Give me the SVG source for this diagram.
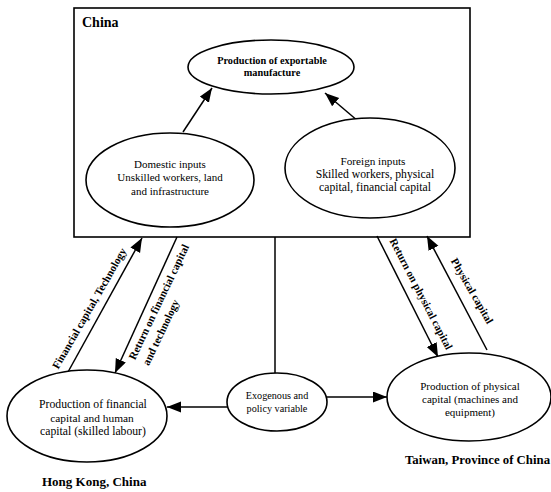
<svg xmlns="http://www.w3.org/2000/svg" width="551" height="492" viewBox="0 0 551 492" font-family="'Liberation Serif', 'DejaVu Serif', serif">
<style>
.shape{fill:#fff;stroke:#000;stroke-width:1.6}
.ln{fill:none;stroke:#000;stroke-width:1.5}
text{font-family:'Liberation Serif','Times New Roman',serif;fill:#000}
.t{font-size:11px;text-anchor:middle}
.tb{font-size:10.3px;font-weight:bold;text-anchor:middle}
.lab{font-size:11px;font-weight:bold;text-anchor:middle}
.title{font-size:14px;font-weight:bold}
.reg{font-size:13px;font-weight:bold}
</style>
<defs>
<marker id="ah" markerUnits="userSpaceOnUse" markerWidth="15" markerHeight="12" refX="14" refY="5.5" orient="auto">
<path d="M0,0 L14,5.5 L0,11 z" fill="#000"/>
</marker>
</defs>
<rect width="551" height="492" fill="#fff"/>
<g id="china">
<rect class="shape" x="74" y="8" width="396" height="229"/>
<text class="title" x="82" y="27">China</text>
</g>
<g id="connectors">
<line class="ln" x1="183" y1="132" x2="212" y2="88" marker-end="url(#ah)"/>
<line class="ln" x1="365" y1="127" x2="325" y2="93" marker-end="url(#ah)"/>
<line class="ln" x1="68" y1="372" x2="142" y2="238" marker-end="url(#ah)"/>
<line class="ln" x1="177" y1="237" x2="115" y2="373" marker-end="url(#ah)"/>
<line class="ln" x1="377" y1="236" x2="438" y2="357" marker-end="url(#ah)"/>
<line class="ln" x1="487" y1="350" x2="427" y2="236" marker-end="url(#ah)"/>
<line class="ln" x1="275" y1="237" x2="275" y2="373"/>
<line class="ln" x1="228" y1="407" x2="167" y2="407" marker-end="url(#ah)"/>
<line class="ln" x1="327" y1="397" x2="387" y2="397" marker-end="url(#ah)"/>
<text class="lab" transform="translate(89.5,308.5) rotate(-60)" y="3.5">Financial capital, Technology</text>
<text class="lab" transform="translate(159,302) rotate(-64.5)" y="3.5">Return on financial capital</text>
<text class="lab" transform="translate(161,332.5) rotate(-64.5)" y="3.5">and technology</text>
<text class="lab" transform="translate(421,294) rotate(62.5)" y="3.5">Return on physical capital</text>
<text class="lab" transform="translate(472,291) rotate(60)" y="3.5">Physical capital</text>
</g>
<g id="export">
<ellipse class="shape" cx="271" cy="67" rx="83" ry="27"/>
<text class="tb" x="272" y="64">Production of exportable</text>
<text class="tb" x="272" y="76">manufacture</text>
</g>
<g id="domestic">
<ellipse class="shape" cx="170" cy="180" rx="84" ry="47"/>
<text class="t" x="170" y="168">Domestic inputs</text>
<text class="t" x="170" y="181">Unskilled workers, land</text>
<text class="t" x="170" y="195">and infrastructure</text>
</g>
<g id="foreign">
<ellipse class="shape" cx="370" cy="168" rx="85" ry="50"/>
<text class="t" x="373" y="165" style="font-size:11.2px">Foreign inputs</text>
<text class="t" x="375" y="178" style="font-size:11.7px">Skilled workers, physical</text>
<text class="t" x="375" y="191" style="font-size:11.7px">capital, financial capital</text>
</g>
<g id="hongkong">
<ellipse class="shape" cx="87" cy="416" rx="80" ry="46"/>
<text class="t" x="93" y="408" style="font-size:11.7px">Production of financial</text>
<text class="t" x="92" y="422" style="font-size:11.4px">capital and human</text>
<text class="t" x="93" y="435" style="font-size:11.7px">capital (skilled labour)</text>
<text class="reg" x="42" y="486">Hong Kong, China</text>
</g>
<g id="exogenous">
<ellipse class="shape" cx="277" cy="402" rx="50" ry="29"/>
<text class="t" x="277" y="399" style="font-size:10.2px">Exogenous and</text>
<text class="t" x="277" y="412" style="font-size:10.2px">policy variable</text>
</g>
<g id="taiwan">
<ellipse class="shape" cx="469" cy="397" rx="82" ry="44"/>
<text class="t" x="470" y="390">Production of physical</text>
<text class="t" x="470" y="403">capital (machines and</text>
<text class="t" x="470" y="416">equipment)</text>
<text class="reg" x="405" y="464" style="font-size:12.8px">Taiwan, Province of China</text>
</g>
</svg>
